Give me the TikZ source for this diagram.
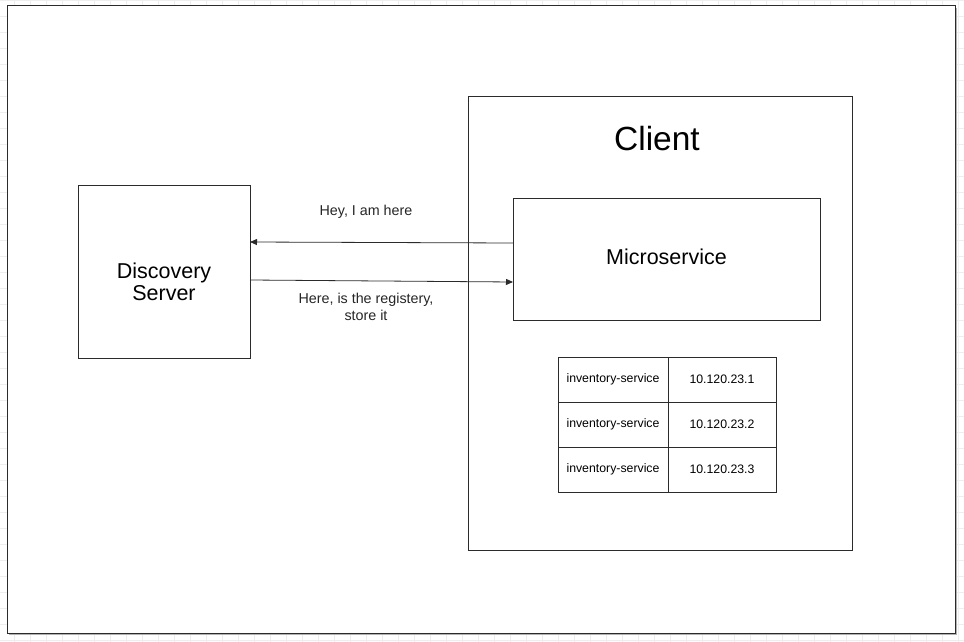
\documentclass[tikz,border=0pt]{standalone}
\usepackage{fontspec}
\setmainfont{Liberation Sans}
\usetikzlibrary{arrows.meta}
\definecolor{gridc}{HTML}{EEEEEE}
\definecolor{edge}{HTML}{2B2B2B}
\tikzset{
  box/.style={draw=edge, line width=0.9pt, fill=white, outer sep=0pt, inner sep=0pt, align=center},
  cell/.style={draw=edge, line width=0.9pt, fill=white, outer sep=0pt, inner sep=0pt, minimum height=45pt, font=\fontsize{12.3}{14}\selectfont},
  arr/.style={draw=edge, line width=0.8pt, -{Triangle[length=7pt,width=6pt]}},
  lbl/.style={font=\fontsize{14.3}{16.5}\selectfont, align=center, text=black!85}
}
\begin{document}
\begin{tikzpicture}[x=1pt,y=-1pt]
\useasboundingbox (0,0) rectangle (964,642);
\fill[white] (0,0) rectangle (964,642);
% grid
\foreach \i in {0,...,60} {\draw[gridc, line width=0.8pt] (14.5+16*\i,0) -- (14.5+16*\i,642);}
\foreach \j in {0,...,40} {\draw[gridc, line width=0.8pt] (0,0.5+16*\j) -- (964,0.5+16*\j);}
% page
\fill[gray!60] (9,8) rectangle (957,635);
\draw[edge, line width=1pt, fill=white] (7,6) rectangle (955,633);
% discovery server
\node[box, minimum width=172pt, minimum height=173pt] (ds) at (164,271.5) {};
\node[font=\fontsize{21.5}{22}\selectfont, align=center, inner sep=0pt] (dst) at (164,281.5) {Discovery\\Server};
% client
\node[box, minimum width=384pt, minimum height=454pt] (cl) at (660,323) {};
\node[font=\fontsize{33.5}{36}\selectfont, inner sep=0pt] (clt) at (657,139) {Client};
\node[box, minimum width=307pt, minimum height=122pt, font=\fontsize{21.5}{23}\selectfont] (ms) at (666.5,259) {};
\node[font=\fontsize{21.5}{23}\selectfont, inner sep=0pt] (mst) at (666.5,257) {Microservice};
% table
\node[cell, minimum width=110pt] (a1) at (613,379.5) {inventory-service};
\node[cell, minimum width=108pt] (b1) at (722,379.5) {10.120.23.1};
\node[cell, minimum width=110pt] (a2) at (613,424.5) {inventory-service};
\node[cell, minimum width=108pt] (b2) at (722,424.5) {10.120.23.2};
\node[cell, minimum width=110pt] (a3) at (613,469.5) {inventory-service};
\node[cell, minimum width=108pt] (b3) at (722,469.5) {10.120.23.3};
% connectors
\draw[arr] ([yshift=16pt]ms.west) -- ([yshift=29.5pt]ds.east);
\draw[arr] ([yshift=-8.5pt]ds.east) -- ([yshift=-23pt]ms.west);
\node[lbl] (l1) at (366,211.5) {Hey, I am here};
\node[lbl] (l2) at (366,307) {Here, is the registery,\\store it};
\end{tikzpicture}
\end{document}
